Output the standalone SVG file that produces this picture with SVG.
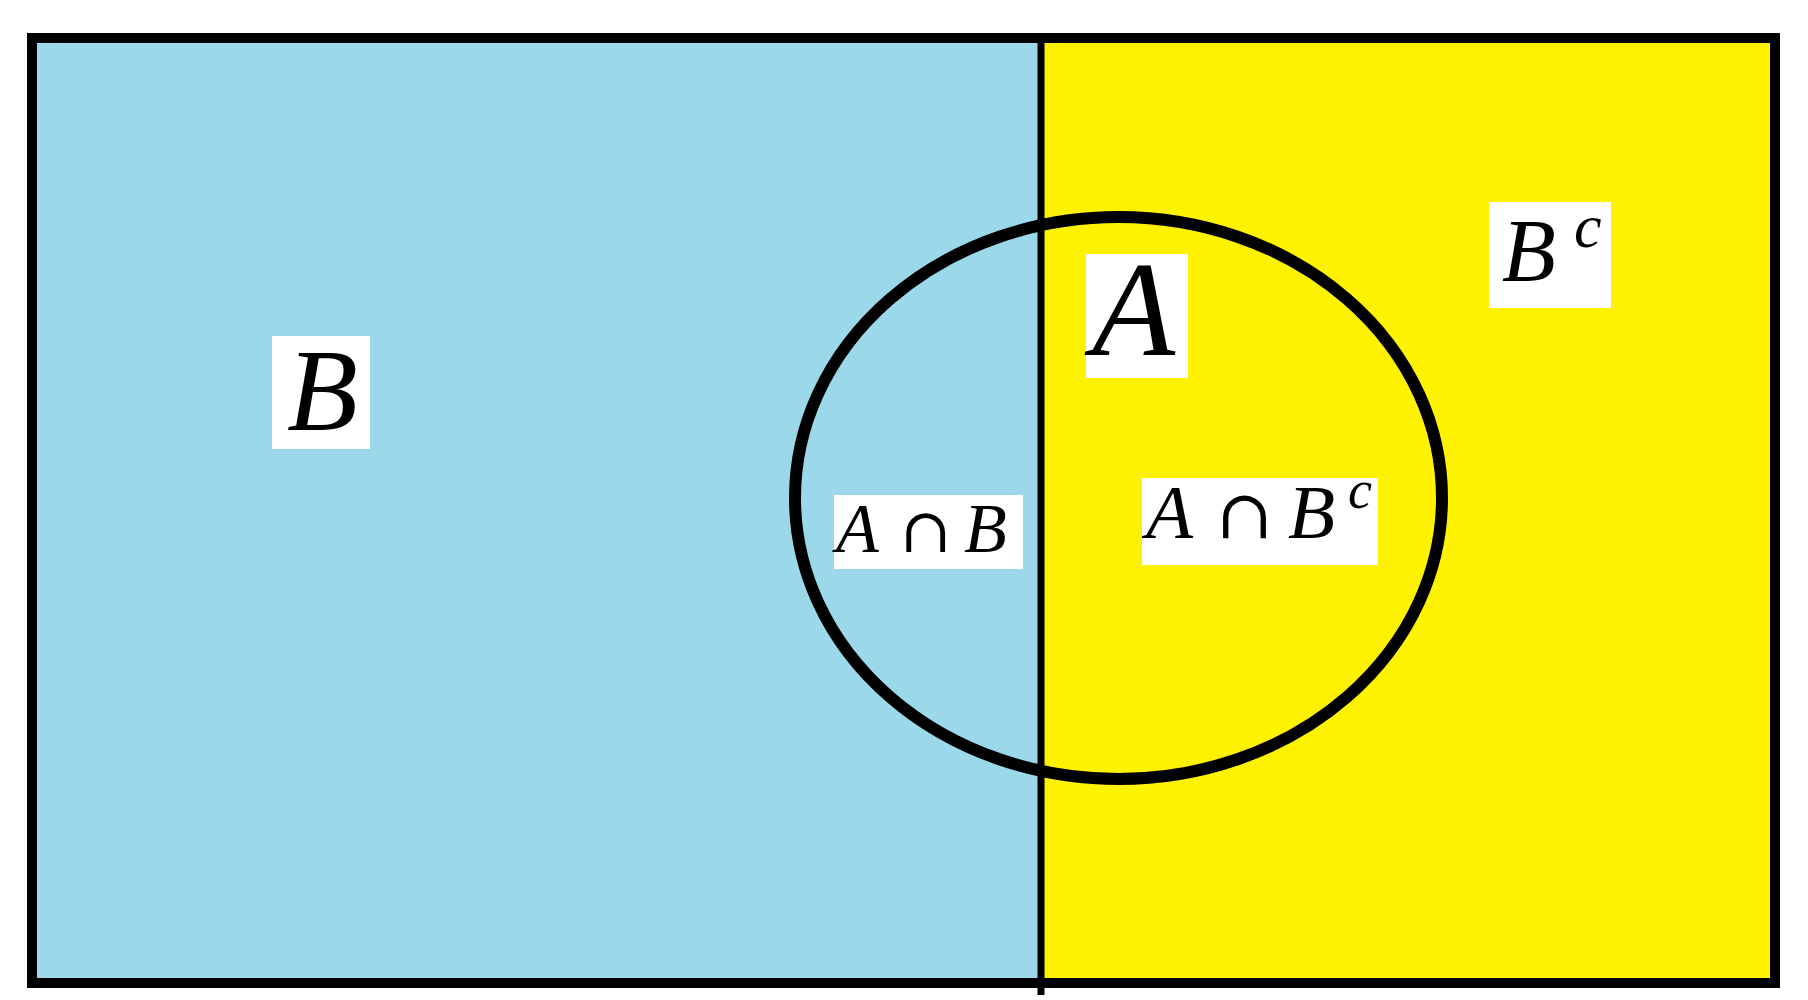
<svg xmlns="http://www.w3.org/2000/svg" width="1808" height="1000" viewBox="0 0 1808 1000">
<style>
.lbl{fill:#fff}
.m{font-family:"Liberation Serif","Times New Roman",serif;font-style:italic;fill:#000}
.op{font-family:"DejaVu Serif","Liberation Serif",serif;font-style:normal}
</style>
<rect width="1808" height="1000" fill="#fff"/>
<g id="region-B"><rect x="32" y="38" width="1009" height="945" fill="#9BD9EA"/></g>
<g id="region-Bc"><rect x="1041" y="38" width="734" height="945" fill="#FFF200"/></g>
<g id="frame">
<rect x="32" y="38" width="1743" height="945" fill="none" stroke="#000" stroke-width="10"/>
<line x1="1041" y1="38" x2="1041" y2="995" stroke="#000" stroke-width="7"/>
</g>
<g id="set-A"><ellipse cx="1118.5" cy="498" rx="323.5" ry="281" fill="none" stroke="#000" stroke-width="12"/></g>
<g id="label-B">
<rect class="lbl" x="272" y="336" width="98" height="113"/>
<text class="m" x="287" y="430" font-size="116">B</text>
</g>
<g id="label-A">
<rect class="lbl" x="1086" y="254" width="102" height="124"/>
<text class="m" x="1092" y="355" font-size="136">A</text>
</g>
<g id="label-Bc">
<rect class="lbl" x="1489" y="202" width="122" height="106"/>
<text class="m" y="280" font-size="88"><tspan x="1502">B</tspan><tspan x="1574" y="247" font-size="62">c</tspan></text>
</g>
<g id="label-AnB">
<rect class="lbl" x="834" y="495" width="189" height="74"/>
<text class="m" y="552" font-size="70"><tspan x="836">A</tspan><tspan class="op" x="900" font-size="62">∩</tspan><tspan x="964">B</tspan></text>
</g>
<g id="label-AnBc">
<rect class="lbl" x="1142" y="478" width="236" height="87"/>
<text class="m" y="538" font-size="77"><tspan x="1146">A</tspan><tspan class="op" x="1216" font-size="68">∩</tspan><tspan x="1288">B</tspan><tspan x="1348" y="508" font-size="54">c</tspan></text>
</g>
</svg>
